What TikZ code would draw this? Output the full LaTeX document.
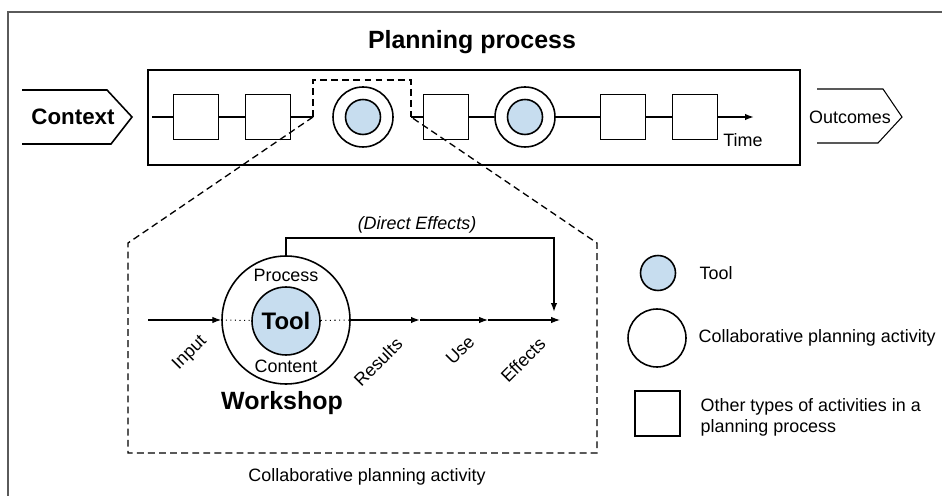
\documentclass[tikz,border=0pt]{standalone}
\usepackage{fontspec}
\setmainfont{Liberation Sans}
\usetikzlibrary{arrows.meta}
\definecolor{toolblue}{RGB}{199,221,239}
\definecolor{framegray}{RGB}{90,90,90}

\begin{document}
\begin{tikzpicture}[x=0.02cm,y=-0.02cm,line width=0.9pt,
	every node/.style={font=\fontsize{10.2}{12}\selectfont},
	box/.style={draw,minimum size=0.9cm,inner sep=0pt},
	ring/.style={draw,circle,inner sep=0pt,minimum size=#1},
	tool/.style={draw,circle,fill=toolblue,inner sep=0pt,minimum size=#1},
	big/.style={font=\bfseries\fontsize{14.2}{17}\selectfont},
	zoomline/.style={dash pattern=on 3.9pt off 2.4pt,line width=0.75pt},
	arr/.style={-{Latex[length=5pt,width=3.6pt]}}]
	\useasboundingbox (0,0) rectangle (942,496);
	\draw[framegray,line width=0.6pt] (8,496) -- (8,12) -- (942,12);

	\node[big] (title) at (472,42) {Planning process};
	\draw (148,70) rectangle (800,165);
	\draw (22,90) -- (107,90) -- (132,117) -- (111,144) -- (22,144);
	\node[font=\bfseries\fontsize{12.7}{15}\selectfont] (ctx) at (73,117) {Context};
	\draw[line width=0.6pt] (817,89) -- (883,89) -- (902,117) -- (878,143) -- (817,143);
	\node (out) at (850,117) {Outcomes};

	\coordinate (t0) at (152,117);
	\coordinate (t1) at (754,117);
	\coordinate (z1) at (313,117);
	\coordinate (z2) at (411,117);
	\node[box] (s1) at (196,117) {};
	\node[box] (s2) at (268,117) {};
	\node[ring=1.2cm] (c1) at (363,117) {};
	\node[tool=0.7cm] (k1) at (363,117) {};
	\node[box] (s3) at (446,117) {};
	\node[ring=1.2cm] (c2) at (525,117) {};
	\node[tool=0.7cm] (k2) at (525,117) {};
	\node[box] (s4) at (623,117) {};
	\node[box] (s5) at (695,117) {};
	\draw (t0) -- (s1) -- (s2) -- (z1);
	\draw (z2) -- (s3) -- (c2) -- (s4) -- (s5);
	\draw[arr] (s5) -- (t1);
	\node (time) at (743,140) {Time};

	\coordinate (zt1) at (313,80);
	\coordinate (zt2) at (411,80);
	\coordinate (w1) at (128,243);
	\coordinate (w2) at (128,453);
	\coordinate (w3) at (597,453);
	\coordinate (w4) at (597,243);
	\draw[zoomline] (z1) -- (zt1) -- (zt2) -- (z2);
	\draw[zoomline] (z1) -- (w1) -- (w2) -- (w3) -- (w4) -- (z2);
	\node (cpa) at (367,477) {Collaborative planning activity};

	\node[ring=2.56cm] (W) at (286,320) {};
	\node[tool=1.36cm,font=\bfseries\fontsize{13.6}{16}\selectfont] (T) at (286,321) {Tool};
	\node (proc) at (286,275) {Process};
	\node (cont) at (286,366) {Content};
	\node[big] (ws) at (282,403) {Workshop};
	\coordinate (in) at (148,320);
	\coordinate (r1) at (420,320);
	\coordinate (r2) at (488,320);
	\coordinate (r3) at (560,320);
	\draw[arr,line width=0.6pt] (in) -- (W);
	\draw[dotted,line width=0.6pt] (W.west) -- (T);
	\draw[dotted,line width=0.6pt] (T) -- (W.east);
	\draw[arr,line width=1pt] (W) -- (r1);
	\draw[arr,line width=0.6pt] (r1) -- (r2);
	\draw[arr,line width=0.6pt] (r2) -- (r3);
	\coordinate (dtop) at (554,238);
	\coordinate (de) at (554,312);
	\draw[arr] (W.north) |- (dtop) -- (de);
	\node[font=\itshape\fontsize{10.2}{12}\selectfont] (dir) at (417,225) {(Direct Effects)};
	\node[rotate=45] (inp) at (190,353) {Input};
	\node[rotate=45] (res) at (378,362) {Results};
	\node[rotate=45] (use) at (460,350) {Use};
	\node[rotate=45] (eff) at (523,360) {Effects};

	\node[tool=0.7cm] (lk) at (658,273) {};
	\node[anchor=west] (lkt) at (693,273) {Tool};
	\node[ring=1.16cm] (lc) at (657,338) {};
	\node[anchor=west] (lct) at (692,338) {Collaborative planning activity};
	\node[box] (ls) at (657.5,413.5) {};
	\node[anchor=west,align=left] (lst) at (694,417) {Other types of activities in a\\planning process};
\end{tikzpicture}
\end{document}
